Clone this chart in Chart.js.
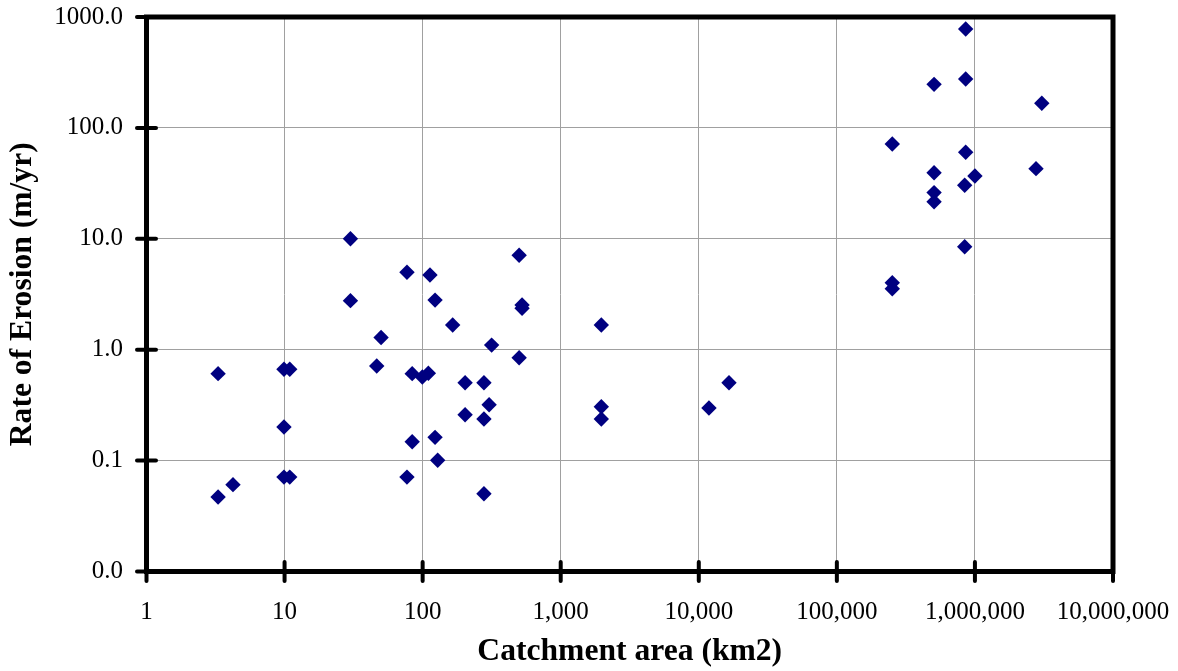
<!DOCTYPE html>
<html>
<head>
<meta charset="utf-8">
<script src="https://cdn.jsdelivr.net/npm/chart.js@4/dist/chart.umd.min.js"></script>
<style>
  html, body { margin: 0; padding: 0; background: #fff; }
  canvas { display: block; }
</style>
</head>
<body>
<canvas id="erosionChart" width="1178" height="671"></canvas>
<script>
// catchment area (km2) and rate of erosion (m/yr)
const catchmentArea = [
  3.3, 3.3, 4.23, 9.9, 10.9, 9.9, 9.9, 10.9,
  30, 30, 46.5, 50, 77, 77, 84, 84,
  99.5, 110, 113, 123, 123, 128.5, 165, 203,
  203, 278, 278, 278, 303, 316, 500, 500,
  525, 525, 1968, 1968, 1968, 11850, 16550,
  252000, 252000, 252000, 506000, 506000, 506000, 506000,
  857000, 857000, 857000, 843000, 843000, 1000000, 2770000, 3050000
];
const erosionRate = [
  0.608, 0.047, 0.0607, 0.666, 0.666, 0.201, 0.071, 0.071,
  10.0, 2.77, 0.713, 1.29, 5.0, 0.071, 0.608, 0.148,
  0.567, 0.613, 4.72, 2.8, 0.162, 0.1007, 1.67, 0.504,
  0.259, 0.504, 0.237, 0.0503, 0.319, 1.10, 7.1, 0.847,
  2.53, 2.36, 1.67, 0.306, 0.237, 0.298, 0.504,
  71.6, 4.02, 3.55, 247, 39.4, 26.1, 21.6,
  780, 276, 60.3, 30.4, 8.49, 36.8, 42.9, 167
];
const xTickValues = [1, 10, 100, 1000, 10000, 100000, 1000000, 10000000];
const yTickValues = [0.01, 0.1, 1, 10, 100, 1000];

const serif = "'Times New Roman', 'Liberation Serif', serif";

// thick black frame plus cross tick marks like the spreadsheet original
const framePlugin = {
  id: 'frame',
  afterDraw(chart) {
    const ctx = chart.ctx;
    const a = chart.chartArea;
    const xs = chart.scales.x, ys = chart.scales.y;
    ctx.save();
    ctx.strokeStyle = '#000';
    ctx.lineWidth = 4;
    ctx.lineCap = 'round';
    xTickValues.forEach(function (v) {
      const px = xs.getPixelForValue(v);
      ctx.beginPath();
      ctx.moveTo(px, a.bottom - 9.5);
      ctx.lineTo(px, a.bottom + 9.5);
      ctx.stroke();
    });
    yTickValues.forEach(function (v) {
      const py = ys.getPixelForValue(v);
      ctx.beginPath();
      ctx.moveTo(a.left - 9.5, py);
      ctx.lineTo(a.left + 9.5, py);
      ctx.stroke();
    });
    ctx.lineWidth = 5;
    ctx.lineCap = 'butt';
    ctx.strokeRect(a.left, a.top, a.right - a.left, a.bottom - a.top);
    ctx.restore();
  }
};

const points = catchmentArea.map((x, i) => ({ x: x, y: erosionRate[i] }));

new Chart(document.getElementById('erosionChart'), {
  type: 'scatter',
  data: {
    datasets: [{
      data: points,
      pointStyle: 'rectRot',
      pointRadius: 7.7,
      pointBorderWidth: 0,
      backgroundColor: '#000080',
      borderColor: '#000080'
    }]
  },
  options: {
    responsive: false,
    animation: false,
    layout: { padding: { top: 17, right: 65, left: 0, bottom: 0 } },
    plugins: {
      legend: { display: false },
      tooltip: { enabled: false }
    },
    scales: {
      x: {
        type: 'logarithmic',
        min: 1,
        max: 10000000,
        afterBuildTicks: function (scale) {
          scale.ticks = xTickValues.map(v => ({ value: v }));
        },
        afterFit: function (scale) { scale.height = 99.5; },
        border: { display: false },
        // invisible tick marks only push the labels away from the axis
        grid: { color: '#a0a0a0', lineWidth: 1, drawTicks: true, tickLength: 26, tickColor: 'rgba(0,0,0,0)' },
        ticks: {
          padding: 0,
          color: '#000',
          font: { family: serif, size: 25 },
          maxRotation: 0,
          callback: function (value) {
            return Number(value).toLocaleString('en-US');
          }
        },
        title: {
          display: true,
          text: 'Catchment area (km2)',
          color: '#000',
          font: { family: serif, size: 31.6, weight: 'bold' },
          padding: { top: 0, bottom: 0 }
        }
      },
      y: {
        type: 'logarithmic',
        min: 0.01,
        max: 1000,
        afterBuildTicks: function (scale) {
          scale.ticks = yTickValues.map(v => ({ value: v }));
        },
        afterFit: function (scale) { scale.width = 146.5; },
        border: { display: false },
        grid: { color: '#a0a0a0', lineWidth: 1, drawTicks: true, tickLength: 23.5, tickColor: 'rgba(0,0,0,0)' },
        ticks: {
          padding: 0,
          color: '#000',
          font: { family: serif, size: 25 },
          callback: function (value) {
            return Number(value).toFixed(1);
          }
        },
        title: {
          display: true,
          text: 'Rate of Erosion (m/yr)',
          color: '#000',
          font: { family: serif, size: 31.6, weight: 'bold' },
          padding: { top: 3.6, bottom: 0 }
        }
      }
    }
  },
  plugins: [framePlugin]
});
</script>
</body>
</html>
